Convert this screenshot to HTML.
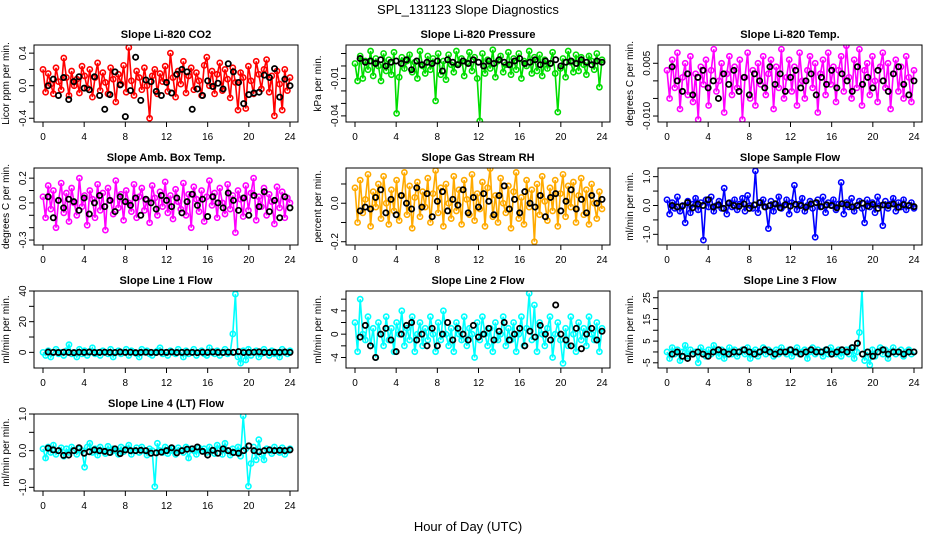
<!DOCTYPE html>
<html><head><meta charset="utf-8"><style>
body{margin:0;background:#fff;}
svg{display:block;font-family:"Liberation Sans",Arial,sans-serif;}
</style></head><body>
<svg id="chart" width="936" height="540" viewBox="0 0 936 540">
<text x="468" y="14" text-anchor="middle" font-size="13">SPL_131123  Slope Diagnostics</text>
<text x="468" y="531" text-anchor="middle" font-size="13">Hour of Day (UTC)</text>
</svg>
<script>
const xTicks=[0,4,8,12,16,20,24];
const co2Color=[0.2,-0.08,0.15,0.02,-0.1,0.22,0.05,-0.05,0.34,0.1,-0.12,0.18,0.0,0.08,-0.09,0.24,0.12,-0.03,0.2,-0.14,0.1,0.28,-0.06,0.16,0.04,-0.1,0.22,0.08,-0.2,0.14,0.02,0.25,-0.08,0.47,0.06,-0.12,0.18,0.1,-0.05,0.22,0.0,-0.4,0.12,0.2,-0.1,0.15,0.05,0.24,-0.07,0.4,0.1,-0.14,0.18,0.02,0.3,-0.09,0.12,0.22,-0.05,0.16,0.06,-0.12,0.25,0.35,0.0,0.18,-0.1,0.14,0.28,-0.06,0.2,0.08,-0.15,0.22,0.04,-0.3,0.16,0.1,-0.28,0.24,0.06,-0.1,0.3,0.14,-0.04,0.2,0.32,-0.08,0.12,-0.37,0.18,0.02,-0.3,0.2,-0.06,0.1];
const co2Black=[0.0,0.08,-0.12,0.1,-0.17,0.05,0.11,-0.03,-0.05,0.11,-0.12,-0.29,-0.11,0.17,0.01,-0.38,-0.06,0.35,-0.18,0.07,0.05,-0.07,-0.12,0.04,-0.09,0.14,0.2,0.17,-0.29,-0.04,-0.12,0.06,-0.01,0.03,-0.04,0.27,0.17,0.04,-0.22,-0.11,-0.09,-0.08,0.13,0.1,0.21,-0.14,0.08,0.0];
const presColor=[0.002,-0.012,0.008,-0.01,0.004,-0.003,0.012,-0.008,0.006,0.0,-0.012,0.01,-0.004,0.005,-0.007,0.011,-0.038,-0.009,0.007,-0.002,0.004,0.009,-0.005,0.003,-0.01,0.012,0.0,-0.006,0.008,-0.003,0.006,-0.028,0.01,-0.007,0.004,-0.011,0.009,0.001,-0.005,0.012,0.002,0.006,-0.008,0.003,0.011,-0.004,0.007,-0.01,-0.044,0.01,-0.006,0.005,-0.002,0.013,-0.009,0.004,0.008,-0.005,0.001,0.011,-0.007,0.006,-0.003,0.01,-0.01,0.004,0.0,0.012,-0.006,0.007,-0.004,0.009,-0.008,0.005,-0.002,0.002,0.011,-0.006,-0.037,-0.002,0.006,-0.009,0.012,0.003,-0.005,0.009,-0.004,0.007,0.001,-0.007,0.008,0.004,-0.003,0.01,-0.017,0.005];
const presBlack=[0.006,0.003,0.004,0.002,0.005,0.0,0.003,0.004,0.002,0.005,-0.003,0.004,0.001,0.003,0.002,0.004,-0.004,0.005,0.003,0.001,0.004,0.002,0.005,0.003,0.0,0.004,0.002,0.005,0.003,0.001,0.004,0.006,0.002,0.003,0.005,0.001,0.004,0.002,0.005,0.0,0.003,0.004,0.002,0.005,0.003,0.001,0.004,0.003];
const tempColor=[0.003,-0.005,0.006,-0.002,0.008,-0.008,0.001,0.005,-0.004,0.007,-0.006,0.002,-0.011,0.004,-0.001,0.006,-0.007,0.003,0.009,-0.003,0.0,0.005,-0.009,0.002,0.007,-0.004,0.004,-0.002,0.006,-0.011,0.001,0.008,-0.005,0.003,-0.007,0.005,-0.001,0.007,-0.004,0.002,0.006,-0.008,0.004,-0.002,0.009,-0.005,0.001,0.006,-0.003,0.004,-0.007,0.008,0.0,-0.005,0.003,0.007,-0.002,0.005,-0.009,0.002,0.006,-0.004,0.008,-0.001,0.004,-0.006,0.003,0.007,-0.003,0.01,0.001,-0.005,0.006,-0.002,0.009,-0.007,0.003,0.005,-0.004,0.007,0.0,-0.006,0.004,0.008,-0.002,0.005,-0.008,0.002,0.006,-0.003,0.004,-0.005,0.007,0.001,-0.006,0.003];
const tempBlack=[0.004,0.0,-0.003,0.002,-0.004,0.001,0.003,-0.002,0.0,-0.005,0.002,-0.001,0.003,-0.003,0.001,-0.004,0.002,0.0,-0.002,0.004,-0.001,0.002,-0.003,0.001,0.003,-0.002,0.0,0.002,-0.004,0.001,-0.001,0.003,-0.002,0.002,0.0,-0.003,0.004,-0.001,0.001,-0.002,0.003,0.0,-0.003,0.002,0.004,-0.001,-0.004,0.0];
const ambColor=[0.05,-0.12,0.14,-0.05,0.1,-0.2,0.02,0.16,-0.08,0.08,-0.15,0.12,0.0,-0.1,0.2,-0.03,0.06,-0.18,0.1,0.03,-0.12,0.15,-0.06,0.08,-0.22,0.12,0.02,-0.09,0.18,-0.04,0.07,-0.14,0.1,0.0,-0.07,0.15,-0.12,0.05,0.12,-0.06,0.02,-0.16,0.14,0.04,-0.1,0.09,-0.03,0.17,-0.08,0.06,-0.13,0.11,0.01,-0.05,0.16,-0.1,0.07,-0.2,0.13,0.03,-0.07,0.1,-0.15,0.05,0.18,-0.02,0.08,-0.12,0.12,0.0,-0.09,0.15,-0.05,0.06,-0.24,0.1,0.03,-0.11,0.14,-0.06,0.08,0.2,-0.14,0.05,-0.03,0.12,-0.1,0.07,0.01,-0.17,0.13,-0.04,0.09,-0.12,0.04,0.0];
const ambBlack=[0.05,-0.12,0.02,-0.04,0.03,0.01,-0.06,0.04,-0.09,0.0,0.06,-0.03,0.02,-0.07,0.05,0.01,-0.02,0.04,-0.1,0.03,0.0,-0.05,0.06,0.02,-0.03,0.04,-0.08,0.01,0.07,-0.02,0.03,-0.11,0.05,0.0,-0.04,0.08,0.02,-0.06,0.04,-0.1,0.06,-0.03,0.09,-0.07,0.02,-0.12,0.05,-0.04];
const rhColor=[0.08,-0.1,0.12,-0.05,0.02,0.15,-0.12,0.06,-0.02,0.1,-0.08,0.14,0.0,-0.11,0.07,-0.04,0.12,-0.09,0.04,0.16,-0.06,0.09,-0.13,0.03,0.11,-0.07,0.06,-0.02,0.13,-0.1,0.05,0.17,-0.05,0.08,-0.12,0.1,0.0,-0.08,0.14,-0.04,0.07,-0.11,0.12,0.02,-0.06,0.15,-0.09,0.05,-0.03,0.11,-0.12,0.08,0.18,-0.07,0.04,-0.1,0.13,0.0,-0.05,0.09,-0.13,0.06,0.16,-0.08,0.03,-0.11,0.12,-0.02,0.07,-0.2,0.1,-0.06,0.14,0.01,-0.09,0.08,-0.04,0.12,-0.12,0.05,0.15,-0.07,0.09,-0.02,0.11,-0.1,0.04,0.13,-0.06,0.07,-0.11,0.1,0.0,-0.08,0.06,-0.03];
const rhBlack=[-0.04,-0.02,-0.03,0.03,0.07,-0.05,0.02,-0.06,0.04,0.0,-0.03,0.08,-0.02,0.05,-0.07,0.01,0.06,-0.04,0.02,-0.01,0.07,-0.05,0.03,-0.02,0.05,0.01,-0.06,0.04,0.09,-0.03,0.02,-0.05,0.06,0.0,-0.02,0.04,-0.07,0.03,0.05,-0.04,0.01,0.07,-0.03,0.02,-0.05,0.04,0.0,0.02];
const sampleColor=[0.2,-0.3,0.1,-0.1,0.3,-0.2,0.0,-0.6,0.15,-0.25,0.05,0.25,-0.15,0.1,-1.2,0.2,-0.05,0.3,-0.2,0.0,0.15,-0.1,0.6,-0.3,0.1,-0.05,0.2,-0.15,0.05,0.25,-0.2,0.35,0.0,-0.1,1.2,-0.25,0.1,0.2,-0.05,-0.8,0.15,-0.2,0.05,0.3,-0.1,0.0,0.2,-0.3,0.1,0.7,-0.15,0.05,0.25,-0.2,0.0,0.15,-0.1,-1.1,0.2,-0.05,0.3,-0.25,0.1,0.0,0.2,-0.15,0.05,0.8,-0.3,0.1,-0.05,0.25,-0.2,0.0,0.15,-0.1,-0.6,0.2,-0.05,0.1,-0.25,0.3,0.0,-0.7,0.15,-0.1,0.05,0.25,-0.2,0.1,-0.05,0.2,-0.15,0.0,0.1,-0.1];
const sampleBlack=[0.0,-0.05,-0.02,0.1,-0.08,0.05,0.0,0.2,-0.05,0.02,-0.1,0.08,0.0,-0.03,0.05,-0.1,0.02,0.1,-0.05,0.0,0.06,-0.08,0.03,-0.02,0.04,0.0,-0.06,0.05,0.1,-0.04,0.02,0.0,-0.08,0.06,0.03,-0.05,0.0,0.08,-0.02,0.04,-0.1,0.02,0.0,0.05,-0.06,0.03,0.0,-0.04];
const line1Color=[0,-2,1,-3,0,2,-1,0,-2,1,5,-1,0,-3,2,-1,1,-2,0,3,-1,0,-2,1,0,-1,2,-3,0,1,-1,0,2,-2,1,0,-1,-3,2,0,1,-1,-2,0,1,3,-1,0,-2,1,0,-1,2,0,-3,1,-1,0,2,-2,0,1,-1,-2,3,0,-1,1,-2,0,2,-1,0,12,38,-3,-7,1,-5,2,-2,0,1,-3,-1,2,0,-2,1,-1,0,-3,2,0,-1,1];
const line1Black=[0.2,0,-0.1,0.1,0,-0.2,0.1,0,0.2,-0.1,0,0.1,0,-0.1,0.2,0,0.1,-0.2,0,0.1,0,-0.1,0.1,0,0.2,-0.1,0,0.1,0,-0.2,0.1,0,0.2,0,-0.1,0.1,0,0.5,-0.1,0,0.1,0.3,0,-0.1,0.1,0,0.2,0];
const line2Color=[2,-3,6,0,-1,3,-2,1,-4,2,0,-2,3,-1,1,-3,2,0,4,-2,1,-1,3,-3,0,2,-2,1,-1,3,0,-3,2,-1,4,0,-2,1,-3,2,0,-1,3,-2,1,0,-4,2,-1,3,0,-2,1,-3,2,-1,0,3,-2,1,-1,2,-3,0,3,-2,1,7,-1,5,-3,2,0,-2,1,3,-4,0,2,-1,-5,1,-2,3,0,-3,2,-1,1,-2,3,0,-1,2,-3,1];
const line2Black=[-0.5,1.5,-2,-4,0,1,-1,-3,0,1.5,2,-1,0,-2,1,-2,0,2,-1,1,0,-1,1.5,-0.5,0,1,-1,0.5,2,-1,0,1,-2,0.5,-0.5,1.5,0,-1,5,0,-1,-2,1,-2.5,0,1,-1,0.5];
const line3Color=[0,-3,2,-1,1,-4,0,3,-2,1,-1,0,-5,2,0,-2,1,-1,3,0,-2,1,-3,0,2,-1,1,-2,0,1,-1,2,-3,0,1,-2,0,2,-1,1,0,-2,1,-1,2,0,-1,1,-2,0,2,-1,0,1,-3,0,2,-1,1,0,-2,1,-1,2,0,-1,1,-2,0,1,-1,2,-3,0,9,29,-4,0,-6,1,-2,0,2,-1,1,-3,0,2,-1,0,1,-2,0,1,-1,0];
const line3Black=[-1,0,-2,-3,-1,0,-1,-2,0,1,0,-1,0,0,1,0,-1,0,1,0,-1,0,0,1,0,-1,0,1,0,0,1,-1,0,1,0,2,4,-1,0,-2,0,1,-1,0,0,-1,0,0];
const line4Color=[0.05,-0.2,0.1,-0.05,0.15,-0.1,0.0,0.08,-0.15,0.05,-0.05,0.1,0.0,-0.1,0.05,0.0,-0.45,0.1,0.2,-0.05,0.05,-0.12,0.1,0.0,-0.08,0.12,-0.05,0.05,0.0,-0.1,0.1,-0.03,0.05,0.15,-0.1,0.0,0.08,-0.05,0.1,0.0,-0.12,0.05,0.0,-0.98,0.2,0.0,-0.05,0.1,-0.08,0.0,0.05,-0.1,0.08,0.0,-0.05,0.1,-0.2,0.05,0.0,-0.1,0.08,0.0,0.05,-0.05,0.1,0.0,-0.08,0.15,0.05,-0.1,0.2,0.0,-0.12,0.05,-0.05,0.1,-0.15,0.95,0.05,-0.97,-0.35,0.1,-0.25,0.3,-0.1,-0.25,0.05,0.0,-0.08,0.1,0.0,-0.05,0.08,-0.1,0.0,0.05];
const line4Black=[0.07,0.02,0.0,-0.13,-0.12,0.0,0.08,-0.07,-0.03,0.02,0.0,-0.02,-0.05,0.05,-0.08,0.02,0.0,0.0,0.01,0.0,-0.07,-0.06,-0.04,0.0,0.08,-0.06,0.0,0.04,0.05,0.1,-0.02,-0.12,0.01,-0.07,0.05,0.0,-0.05,-0.07,0.0,0.13,0.0,-0.03,0.0,0.02,0.0,0.01,0.0,0.02];

const NS='http://www.w3.org/2000/svg';
const svg=document.getElementById('chart');
function mk(tag,attrs,parent){const e=document.createElementNS(NS,tag);for(const k in attrs)e.setAttribute(k,attrs[k]);(parent||svg).appendChild(e);return e;}
const colL=[34,346,658], rowT=[45,168,291,414], W=264, H=77;
const panels=[
 {t:'Slope Li-820 CO2',yl:'Licor ppm per min.',c:0,r:0,ymin:-0.446,ymax:0.5,ticks:[-0.4,-0.2,0,0.2,0.4],labs:['-0.4','0.0','0.4'],labV:[-0.4,0,0.4],col:'#ff0000',cd:co2Color,bd:co2Black},
 {t:'Slope Li-820 Pressure',yl:'kPa per min.',c:1,r:0,ymin:-0.0449,ymax:0.0168,ticks:[-0.04,-0.03,-0.02,-0.01,0,0.01],labs:['-0.04','-0.01'],labV:[-0.04,-0.01],col:'#00dd00',cd:presColor,bd:presBlack},
 {t:'Slope Li-820 Temp.',yl:'degrees C per min.',c:2,r:0,ymin:-0.0117,ymax:0.0102,ticks:[-0.01,-0.005,0,0.005],labs:['-0.010','0.005'],labV:[-0.01,0.005],col:'#ff00ff',cd:tempColor,bd:tempBlack},
 {t:'Slope Amb. Box Temp.',yl:'degrees C per min.',c:0,r:1,ymin:-0.34,ymax:0.282,ticks:[-0.3,-0.2,-0.1,0,0.1,0.2],labs:['-0.3','0.0','0.2'],labV:[-0.3,0,0.2],col:'#ff00ff',cd:ambColor,bd:ambBlack},
 {t:'Slope Gas Stream RH',yl:'percent per min.',c:1,r:1,ymin:-0.217,ymax:0.183,ticks:[-0.2,-0.1,0,0.1],labs:['-0.2','0.0'],labV:[-0.2,0],col:'#ffaa00',cd:rhColor,bd:rhBlack},
 {t:'Slope Sample Flow',yl:'ml/min per min.',c:2,r:1,ymin:-1.37,ymax:1.3,ticks:[-1,-0.5,0,0.5,1],labs:['-1.0','0.0','1.0'],labV:[-1,0,1],col:'#0000ff',cd:sampleColor,bd:sampleBlack},
 {t:'Slope Line 1 Flow',yl:'ml/min per min.',c:0,r:2,ymin:-10.2,ymax:40,ticks:[0,10,20,30,40],labs:['0','20','40'],labV:[0,20,40],col:'#00ffff',cd:line1Color,bd:line1Black},
 {t:'Slope Line 2 Flow',yl:'ml/min per min.',c:1,r:2,ymin:-5.8,ymax:7.4,ticks:[-4,-2,0,2,4,6],labs:['-4','0','4'],labV:[-4,0,4],col:'#00ffff',cd:line2Color,bd:line2Black},
 {t:'Slope Line 3 Flow',yl:'ml/min per min.',c:2,r:2,ymin:-7.4,ymax:28.1,ticks:[-5,0,5,10,15,20,25],labs:['-5','5','15','25'],labV:[-5,5,15,25],col:'#00ffff',cd:line3Color,bd:line3Black},
 {t:'Slope Line 4 (LT) Flow',yl:'ml/min per min.',c:0,r:3,ymin:-1.1,ymax:1.0,ticks:[-1,-0.5,0,0.5,1],labs:['-1.0','0.0','1.0'],labV:[-1,0,1],col:'#00ffff',cd:line4Color,bd:line4Black}
];
panels.forEach((p,pi)=>{
 const L=colL[p.c],T=rowT[p.r];
 const x0=L+9,x1=L+256;
 const sx=h=>x0+(h/24)*(x1-x0);
 const sy=v=>T+H-(v-p.ymin)/(p.ymax-p.ymin)*H;
 const g=mk('g',{});
 
 
 const tt=mk('text',{x:L+W/2,y:T-7,'text-anchor':'middle','font-size':'11','font-weight':'bold'},g);tt.textContent=p.t;
 
 
 // points
 const clip='clip'+pi;
 const cp=mk('clipPath',{id:clip},g);mk('rect',{x:L,y:T,width:W,height:H},cp);
 const pg=mk('g',{'clip-path':'url(#'+clip+')'},g);
 const n=p.cd.length;
 let pts=p.cd.map((v,i)=>sx(i*24/(n-1)).toFixed(1)+','+sy(v).toFixed(1)).join(' ');
 const pl=mk('polyline',{points:pts,fill:'none',stroke:p.col,'stroke-width':1.6},pg);
 
 
 p.cd.forEach((v,i)=>{
  const c=mk('circle',{cx:sx(i*24/(n-1)),cy:sy(v),r:2.6,fill:'none',stroke:p.col,'stroke-width':1.6},pg);
  
  
 });
 const m=p.bd.length;
 p.bd.forEach((v,i)=>{
  const c=mk('circle',{cx:sx(0.5+i*23.5/(m-1)),cy:sy(v),r:2.6,fill:'none',stroke:'#000','stroke-width':1.8},pg);
  
  
 });
 const box=mk('rect',{x:L,y:T,width:W,height:H,fill:'none',stroke:'#000','stroke-width':1},g);
 
 
 // x axis
 mk('line',{x1:sx(0),x2:sx(24),y1:T+H,y2:T+H,stroke:'#000'},g);
 xTicks.forEach(h=>{
  mk('line',{x1:sx(h),x2:sx(h),y1:T+H,y2:T+H+5,stroke:'#000'},g);
  const tx=mk('text',{x:sx(h),y:T+H+18,'text-anchor':'middle','font-size':'10'},g);tx.textContent=h;
  
  
 });
 // y axis
 p.ticks.forEach(v=>{mk('line',{x1:L-5,x2:L,y1:sy(v),y2:sy(v),stroke:'#000'},g);});
 mk('line',{x1:L,x2:L,y1:sy(p.ticks[0]),y2:sy(p.ticks[p.ticks.length-1]),stroke:'#000'},g);
 p.labs.forEach((s,k)=>{
  const y=sy(p.labV[k]);
  const ty=mk('text',{x:L-8,y:y,'text-anchor':'middle','font-size':'10',transform:'rotate(-90 '+(L-8)+' '+y+')'},g);ty.textContent=s;
  
  
 });
 const yx=L-25,yy=T+H/2;
 const yt=mk('text',{x:yx,y:yy,'text-anchor':'middle','font-size':'10',transform:'rotate(-90 '+yx+' '+yy+')'},g);yt.textContent=p.yl;
 
 
});
</script>
</body></html>
